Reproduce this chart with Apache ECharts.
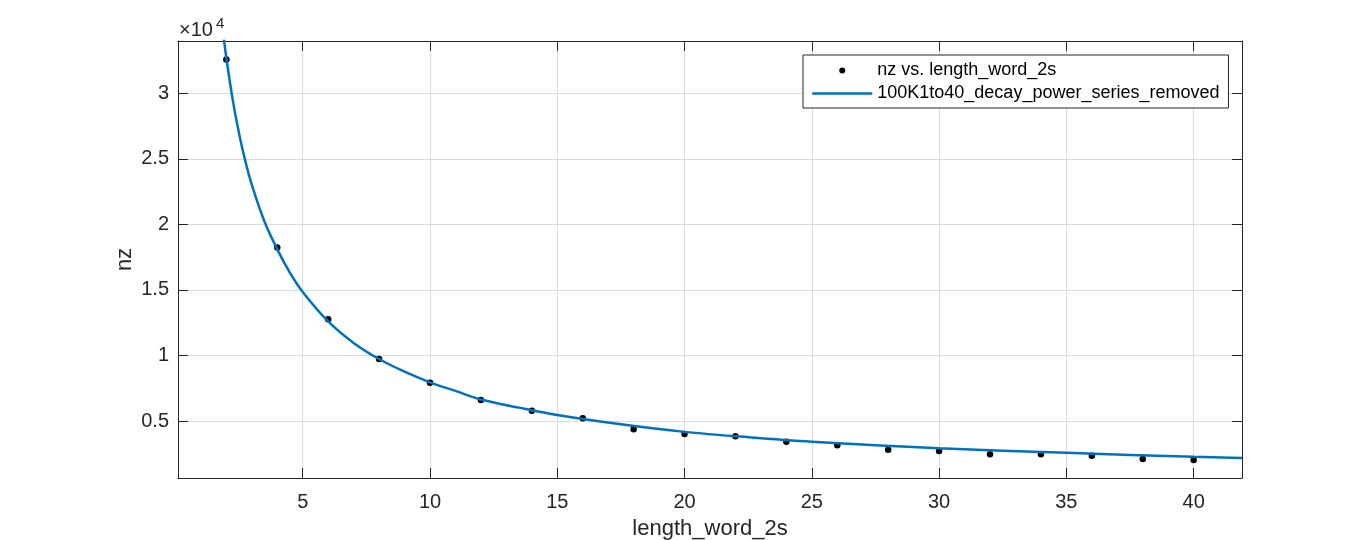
<!DOCTYPE html>
<html>
<head>
<meta charset="utf-8">
<script src="https://cdn.jsdelivr.net/npm/echarts@6/dist/echarts.min.js"></script>
<style>
html,body{margin:0;padding:0;background:#fff;}
#chart{width:1372px;height:540px;}
</style>
</head>
<body>
<div id="chart"></div>
<script>
// Data points (nz vs. length_word_2s)
const lengthWord = [2,4,6,8,10,12,14,16,18,20,22,24,26,28,30,32,34,36,38,40];
const nzValues = [32590,18250,12760,9730,7920,6600,5790,5206,4367,4008,3833,3421,3146,2811,2712,2460,2460,2353,2100,2025];

// Fitted curve samples
const fitX = [1.9,2,2.25,2.5,2.75,3,3.5,4,4.5,5,6,7,8,9,10,11,12,13.5,15,17.5,20,22.5,25,30,35,40,41.9];
const fitY = [34200,32700,29510,26930,24800,23020,20210,18100,16310,14850,12600,10960,9730,8760,7950,7300,6640,6020,5460,4750,4170,3760,3420,2920,2570,2270,2180];

const seriesNames = ['nz vs. length_word_2s', '100K1to40_decay_power_series_removed'];
const xName = 'length_word_2s';
const yName = 'nz';

const FONT = '"Liberation Sans", Arial, Helvetica, sans-serif';
const TXT = '#262626';
const GRID = '#dcdcdc';
const BLUE = '#0072BD';

const scatterData = lengthWord.map((x, i) => [x, nzValues[i]]);
const lineData = fitX.map((x, i) => [x, fitY[i]]);

const xMin = 0.1, xMax = 41.9, yMin = 650, yMax = 34000;

const baseX = {
  type: 'value', min: xMin, max: xMax, splitNumber: 8,
  axisLine: { show: true, onZero: false, lineStyle: { color: TXT, width: 1 } },
  axisTick: { show: true, inside: true, length: 10, lineStyle: { color: TXT } },
};
const baseY = {
  type: 'value', min: yMin, max: yMax, splitNumber: 7,
  axisLine: { show: true, onZero: false, lineStyle: { color: TXT, width: 1 } },
  axisTick: { show: true, inside: true, length: 10, lineStyle: { color: TXT } },
};

const chart = echarts.init(document.getElementById('chart'), null, { renderer: 'canvas' });
chart.setOption({
  animation: false,
  backgroundColor: '#fff',
  grid: { left: 178, right: 130, top: 41, bottom: 62, containLabel: false, outerBoundsMode: 'none' },
  xAxis: [
    Object.assign({}, baseX, {
      position: 'bottom',
      name: xName, nameLocation: 'middle', nameGap: 40,
      nameTextStyle: { fontFamily: FONT, fontSize: 22, color: TXT },
      axisLabel: { show: true, margin: 14, fontFamily: FONT, fontSize: 20, color: TXT, showMinLabel: false, showMaxLabel: false },
      splitLine: { show: true, lineStyle: { color: GRID, width: 1 } }
    }),
    Object.assign({}, baseX, {
      position: 'top',
      axisLabel: { show: false },
      splitLine: { show: false }
    })
  ],
  yAxis: [
    Object.assign({}, baseY, {
      position: 'left',
      name: yName, nameLocation: 'middle', nameGap: 42, nameRotate: 90, nameMoveOverlap: false,
      nameTextStyle: { fontFamily: FONT, fontSize: 22, color: TXT },
      axisLabel: { show: true, margin: 9, fontFamily: FONT, fontSize: 20, color: TXT, showMinLabel: false, showMaxLabel: false,
        formatter: v => String(Math.round(v / 1000) / 10) },
      splitLine: { show: true, lineStyle: { color: GRID, width: 1 } }
    }),
    Object.assign({}, baseY, {
      position: 'right',
      axisLabel: { show: false },
      splitLine: { show: false }
    })
  ],
  legend: {
    show: true, orient: 'vertical', left: 803, top: 55,
    backgroundColor: '#fff', borderColor: TXT, borderWidth: 1, borderRadius: 0,
    padding: [4, 9, 3, 8],
    itemWidth: 60, itemHeight: 6, itemGap: 0, itemTextGap: 4,
    selectedMode: false,
    textStyle: { fontFamily: FONT, fontSize: 18, color: '#000', lineHeight: 23 },
    data: [
      { name: seriesNames[0], icon: 'circle', itemStyle: { color: '#000', opacity: 1 } },
      { name: seriesNames[1], lineStyle: { width: 2.5, color: BLUE }, itemStyle: { color: 'rgba(0,0,0,0)', borderWidth: 0 } }
    ]
  },
  graphic: [
    { type: 'text', left: 179, top: 20, style: { text: '×10', fontFamily: FONT, fontSize: 20, fill: TXT } },
    { type: 'text', left: 216, top: 16, style: { text: '4', fontFamily: FONT, fontSize: 15, fill: TXT } }
  ],
  series: [
    {
      name: seriesNames[0], type: 'scatter', xAxisIndex: 0, yAxisIndex: 0,
      data: scatterData, symbol: 'circle', symbolSize: 6.5,
      itemStyle: { color: '#000', opacity: 1 }, z: 2, silent: true
    },
    {
      name: seriesNames[1], type: 'line', xAxisIndex: 0, yAxisIndex: 0,
      data: lineData, smooth: 0.35, symbol: 'none', showSymbol: false, clip: true,
      lineStyle: { color: BLUE, width: 2.5 }, itemStyle: { color: BLUE }, z: 3, silent: true
    }
  ]
});
</script>
</body>
</html>
